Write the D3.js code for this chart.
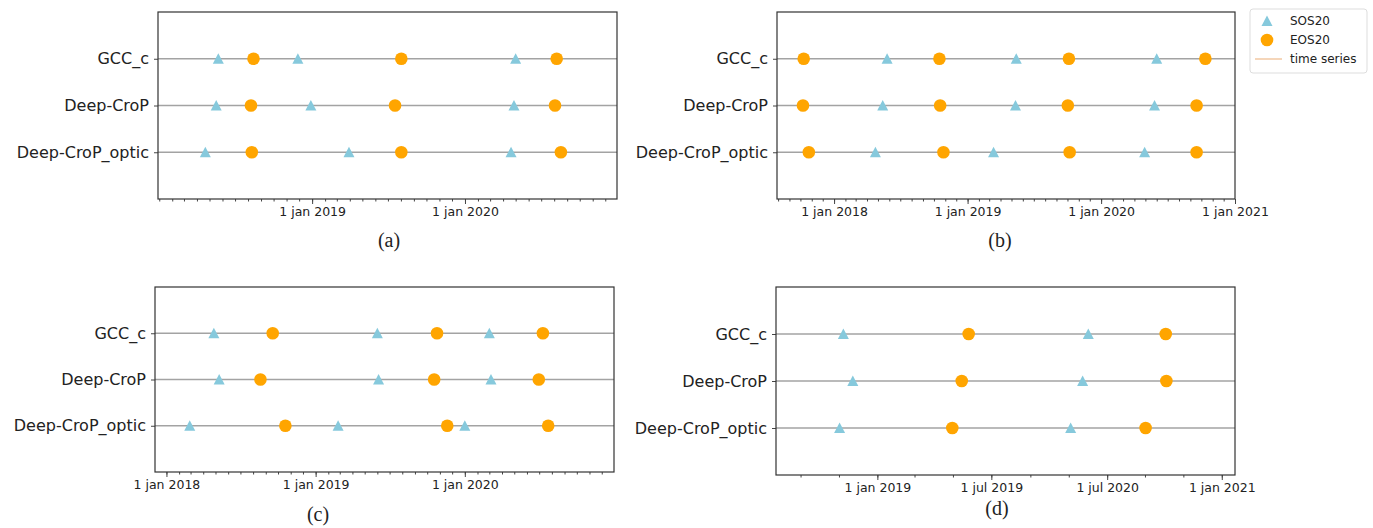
<!DOCTYPE html>
<html lang="en">
  <head>
    <meta charset="UTF-8" />
    <title>SOS20 / EOS20 per product</title>
    <script src="https://d3js.org/d3.v7.min.js"></script>
    <style>
      body {
        margin: 0;
        background: #fff;
      }
      svg {
        display: block;
      }
      .tick text {
        fill: #222;
      }
    </style>
  </head>
  <body>
    <svg width="1373" height="528"></svg>
    <script>
      // rows, top to bottom
      const products = ["GCC_c", "Deep-CroP", "Deep-CroP_optic"];

      // (a) dates per row: GCC_c, Deep-CroP, Deep-CroP_optic
      const sosA = [
        ["2018-05-22", "2018-11-28", "2020-05-01"],
        ["2018-05-17", "2018-12-29", "2020-04-27"],
        ["2018-04-21", "2019-03-30", "2020-04-20"],
      ];
      const eosA = [
        ["2018-08-14", "2019-08-02", "2020-08-07"],
        ["2018-08-08", "2019-07-18", "2020-08-03"],
        ["2018-08-10", "2019-08-02", "2020-08-17"],
      ];
      const domainA = ["2017-12-29", "2020-12-29"];
      const ticksA = ["2019-01-01", "2020-01-01"];
      const tickLabelsA = ["1 jan 2019", "1 jan 2020"];

      // (b)
      const sosB = [
        ["2018-05-26", "2019-05-14", "2020-06-01"],
        ["2018-05-14", "2019-05-12", "2020-05-26"],
        ["2018-04-24", "2019-03-13", "2020-04-29"],
      ];
      const eosB = [
        ["2017-10-10", "2018-10-16", "2019-10-05", "2020-10-12"],
        ["2017-10-08", "2018-10-18", "2019-10-02", "2020-09-18"],
        ["2017-10-24", "2018-10-27", "2019-10-07", "2020-09-18"],
      ];
      const domainB = ["2017-07-29", "2021-01-01"];
      const ticksB = ["2018-01-01", "2019-01-01", "2020-01-01", "2021-01-01"];
      const tickLabelsB = ["1 jan 2018", "1 jan 2019", "1 jan 2020", "1 jan 2021"];

      // (c)
      const sosC = [
        ["2018-04-27", "2019-06-01", "2020-03-01"],
        ["2018-05-10", "2019-06-04", "2020-03-05"],
        ["2018-02-27", "2019-02-25", "2020-01-01"],
      ];
      const eosC = [
        ["2018-09-18", "2019-10-25", "2020-07-10"],
        ["2018-08-19", "2019-10-18", "2020-06-30"],
        ["2018-10-19", "2019-11-19", "2020-07-23"],
      ];
      const domainC = ["2017-12-04", "2020-12-31"];
      const ticksC = ["2018-01-01", "2019-01-01", "2020-01-01"];
      const tickLabelsC = ["1 jan 2018", "1 jan 2019", "1 jan 2020"];

      // (d) tick labels as printed in the figure
      const sosD = [
        ["2018-11-08", "2019-12-02"],
        ["2018-11-23", "2019-11-23"],
        ["2018-11-02", "2019-11-04"],
      ];
      const eosD = [
        ["2019-05-26", "2020-04-03"],
        ["2019-05-15", "2020-04-04"],
        ["2019-04-30", "2020-03-02"],
      ];
      const domainD = ["2018-07-24", "2020-07-22"];
      const ticksD = ["2019-01-01", "2019-07-01", "2020-01-01", "2020-07-01"];
      const tickLabelsD = ["1 jan 2019", "1 jul 2019", "1 jul 2020", "1 jan 2021"];

      const parse = d3.timeParse("%Y-%m-%d");

      const panels = [
        { sos: sosA, eos: eosA, domain: domainA, ticks: ticksA, labels: tickLabelsA,
          minor: 1, x0: 158, x1: 617, y0: 12, y1: 199, cap: "(a)", capX: 389, capY: 247 },
        { sos: sosB, eos: eosB, domain: domainB, ticks: ticksB, labels: tickLabelsB,
          minor: 1, x0: 777, x1: 1235, y0: 12, y1: 199, cap: "(b)", capX: 1000, capY: 247 },
        { sos: sosC, eos: eosC, domain: domainC, ticks: ticksC, labels: tickLabelsC,
          minor: 1, x0: 155, x1: 614, y0: 287, y1: 472, cap: "(c)", capX: 318, capY: 521 },
        { sos: sosD, eos: eosD, domain: domainD, ticks: ticksD, labels: tickLabelsD,
          minor: 2, x0: 776, x1: 1235, y0: 287, y1: 475, cap: "(d)", capX: 997, capY: 515 },
      ];

      const SOS_COLOR = "#86c9dc";
      const EOS_COLOR = "#ffa500";
      const LINE_COLOR = "#a3a3a3";
      const triangle = "M0,-5.5L5.5,5L-5.5,5Z";

      const svg = d3.select("svg");

      panels.forEach((p) => {
        const X = d3.scaleTime().domain(p.domain.map(parse)).range([p.x0, p.x1]);
        const Y = d3.scaleLinear().domain([-1, 3]).range([p.y0, p.y1]);
        const g = svg.append("g");

        // minor ticks
        const minorTicks = d3.timeMonth
          .every(p.minor)
          .range(X.domain()[0], X.domain()[1]);
        const minorAxis = g
          .append("g")
          .attr("transform", `translate(0, ${p.y1})`)
          .call(d3.axisBottom(X).tickValues(minorTicks).tickSize(2.5).tickFormat(""));
        minorAxis.select(".domain").remove();
        minorAxis.selectAll("line").attr("stroke", "#444");

        // major ticks
        const xAxis = g
          .append("g")
          .attr("transform", `translate(0, ${p.y1})`)
          .call(
            d3.axisBottom(X)
              .tickValues(p.ticks.map(parse))
              .tickFormat((d, i) => p.labels[i])
              .tickSize(5)
              .tickPadding(3)
          )
          .attr("font-family", "DejaVu Sans")
          .attr("font-size", 12.5);
        xAxis.select(".domain").remove();
        xAxis.selectAll("line").attr("stroke", "#444");

        const yAxis = g
          .append("g")
          .attr("transform", `translate(${p.x0}, 0)`)
          .call(
            d3.axisLeft(Y)
              .tickValues([0, 1, 2])
              .tickFormat((d) => products[d])
              .tickSize(4)
              .tickPadding(5)
          )
          .attr("font-family", "DejaVu Sans")
          .attr("font-size", 16);
        yAxis.select(".domain").remove();
        yAxis.selectAll("line").attr("stroke", "#444");

        // time series lines
        g.append("g")
          .selectAll("line")
          .data(products)
          .join("line")
          .attr("x1", p.x0)
          .attr("x2", p.x1)
          .attr("y1", (d, i) => Y(i))
          .attr("y2", (d, i) => Y(i))
          .attr("stroke", LINE_COLOR)
          .attr("stroke-width", 1.4);

        // SOS triangles
        const sosPts = p.sos.flatMap((row, i) => row.map((d) => ({ t: parse(d), r: i })));
        g.append("g")
          .selectAll("path")
          .data(sosPts)
          .join("path")
          .attr("d", triangle)
          .attr("transform", (d) => `translate(${X(d.t)}, ${Y(d.r)})`)
          .attr("fill", SOS_COLOR);

        // EOS circles
        const eosPts = p.eos.flatMap((row, i) => row.map((d) => ({ t: parse(d), r: i })));
        g.append("g")
          .selectAll("circle")
          .data(eosPts)
          .join("circle")
          .attr("cx", (d) => X(d.t))
          .attr("cy", (d) => Y(d.r))
          .attr("r", 6.3)
          .attr("fill", EOS_COLOR);

        // frame
        g.append("rect")
          .attr("x", p.x0)
          .attr("y", p.y0)
          .attr("width", p.x1 - p.x0)
          .attr("height", p.y1 - p.y0)
          .attr("fill", "none")
          .attr("stroke", "#333")
          .attr("stroke-width", 1.2);

        svg.append("text")
          .attr("x", p.capX)
          .attr("y", p.capY)
          .attr("text-anchor", "middle")
          .attr("font-family", "Liberation Serif")
          .attr("font-size", 20)
          .attr("fill", "#222")
          .text(p.cap);
      });

      // legend
      const legend = svg.append("g").attr("font-family", "DejaVu Sans").attr("font-size", 12);
      legend.append("rect")
        .attr("x", 1250).attr("y", 9)
        .attr("width", 117).attr("height", 64)
        .attr("rx", 3)
        .attr("fill", "#fff")
        .attr("stroke", "#ddd");
      legend.append("path")
        .attr("d", triangle)
        .attr("transform", "translate(1267, 21)")
        .attr("fill", SOS_COLOR);
      legend.append("circle")
        .attr("cx", 1267).attr("cy", 40).attr("r", 6.3)
        .attr("fill", EOS_COLOR);
      legend.append("line")
        .attr("x1", 1255).attr("x2", 1282)
        .attr("y1", 59).attr("y2", 59)
        .attr("stroke", "#f2c9a3").attr("stroke-width", 1.5);
      const legendLabels = ["SOS20", "EOS20", "time series"];
      legend.selectAll("text.lab")
        .data(legendLabels)
        .join("text")
        .attr("class", "lab")
        .attr("x", 1290)
        .attr("y", (d, i) => 21 + i * 19)
        .attr("dy", "0.35em")
        .attr("fill", "#222")
        .text((d) => d);
    </script>
  </body>
</html>
